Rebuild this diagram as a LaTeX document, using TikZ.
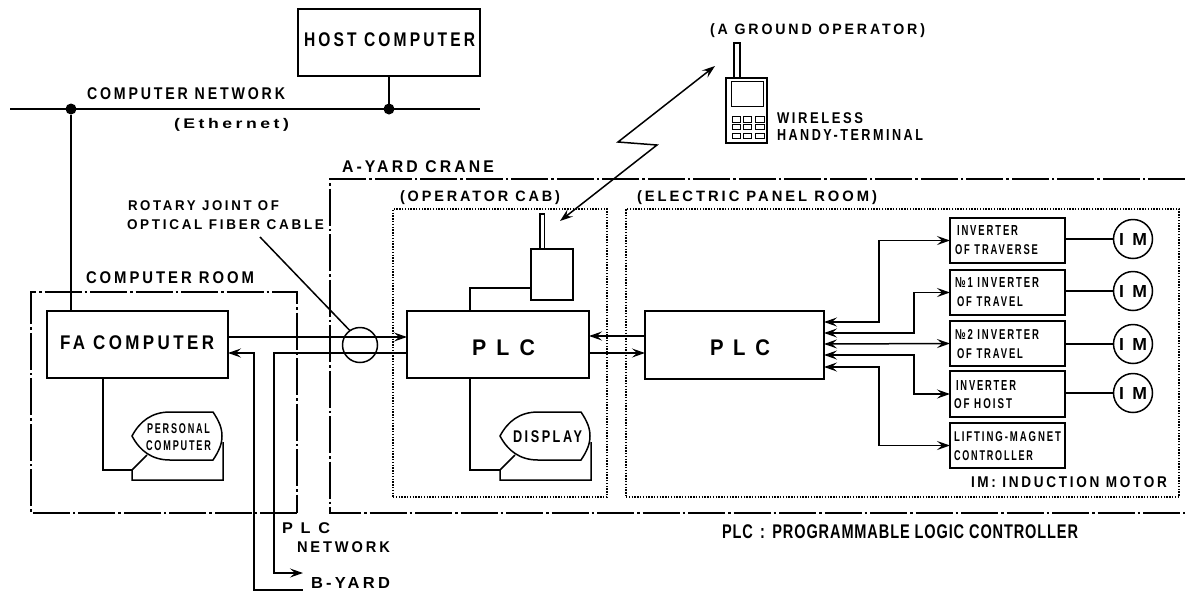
\documentclass[tikz,border=0pt]{standalone}
\usepackage{fontspec}
\usepackage{graphicx}
\usetikzlibrary{arrows.meta,fit}
\newfontfamily\labfont[LetterSpace=20,BoldFont={Liberation Sans Bold}]{Liberation Sans}
\newfontfamily\slfont[LetterSpace=6]{Liberation Sans Bold}
\tikzset{
  ln/.style={line width=1.5pt,line join=miter},
  box/.style={draw,ln,rectangle,inner sep=0pt,outer sep=0pt},
  lbl/.style={inner sep=0pt,outer sep=0pt,font=\labfont\bfseries},
  dashdot/.style={line width=1.5pt,dash pattern=on 37pt off 3pt on 2.5pt off 3pt},
  dotbox/.style={draw,rectangle,inner sep=0pt,outer sep=0pt,line width=1.3pt,dash pattern=on 1.4pt off 1.4pt},
  imc/.style={draw,ln,circle,minimum size=39pt,inner sep=0pt,outer sep=0pt},
  jdot/.style={fill=black,circle,minimum size=11pt,inner sep=0pt,outer sep=0pt},
  tipf/.style={-{Stealth[length=13pt,width=9pt,inset=5pt]}},
  tipb/.style={{Stealth[length=13pt,width=9pt,inset=5pt]}-},
  tipd/.style={{Stealth[length=13pt,width=9pt,inset=5pt]}-{Stealth[length=13pt,width=9pt,inset=5pt]}},
  thin part/.style={line width=0.6pt},
  dsp/.pic={
    \draw[ln] (0,0) .. controls (8,-15) and (20,-24) .. (38,-24) -- (81,-24)
      .. controls (87,-15) and (90,-8) .. (90,0) .. controls (90,8) and (87,15) .. (81,24)
      -- (38,24) .. controls (20,24) and (8,15) .. (0,0) -- cycle;
    \draw[ln] (15,19) -- (0,34) -- (0,44) -- (91,44) -- (91,6);
  }
}
\newcommand\BX[5]{\node[box,fit={(#2,#3)(#4,#5)}] (#1) {};}
\newcommand\DB[5]{\node[dotbox,fit={(#2,#3)(#4,#5)}] (#1) {};}
\newcommand\LB[6]{\pgfmathsetmacro\LBw{#3-#2}\node[lbl,anchor=west] (#1) at (#2,#4) {\resizebox*{\LBw pt}{#5pt}{#6}};}
\begin{document}
\begin{tikzpicture}[x=1pt,y=-1pt]
\useasboundingbox (0,0) rectangle (1185,592);
% boxes
\BX{host}{298}{9}{480}{76}
\BX{fa}{47}{311}{228}{378}
\BX{plcA}{407}{311}{589}{378}
\BX{plcB}{645}{311}{824}{379}
\BX{radio}{531}{249}{573}{300}
\BX{invA}{950}{218}{1065}{263}
\BX{invB}{950}{270}{1065}{315}
\BX{invC}{950}{321}{1065}{366}
\BX{invD}{950}{371}{1065}{417}
\BX{lift}{950}{423}{1065}{468}
\DB{cab}{393}{209}{607}{497}
\DB{panel}{626}{209}{1179}{497}
\node[imc] (imA) at (1133,239) {};
\node[imc] (imB) at (1133,291) {};
\node[imc] (imC) at (1133,344) {};
\node[imc] (imD) at (1133,393) {};
\node[draw,circle,ln,minimum size=35pt,inner sep=0pt,outer sep=0pt] (joint) at (360,345) {};
% regions
\draw[dashdot] (297,513) -- (31,513) -- (31,292) -- (297,292) -- cycle;
\draw[dashdot] (1185,179) -- (330,179) -- (330,513) -- (1185,513);
% network
\coordinate (netL) at (10,109);
\coordinate (netR) at (480,109);
\node[jdot] (dotA) at (71,109) {};
\node[jdot] (dotB) at (389,109) {};
\draw[ln] (netL) -- (netR);
\draw[ln] (dotA) -- (dotA |- fa.north);
\draw[ln] (dotB |- host.south) -- (dotB);
% plc network
\coordinate (byA) at (303,573);
\coordinate (byB) at (303,590);
\draw[ln,tipf] (fa.east |- 0,337) -- (plcA.west |- 0,337);
\draw[ln,tipf] (plcA.west |- 0,353) -- (274,353) |- (byA);
\draw[ln,tipb] (fa.east |- 0,353) -- (254,353) |- (byB);
% leader
\coordinate (lead) at (260,237);
\draw[ln] (lead) -- (joint.125);
% plc to plc
\draw[ln,tipb] (plcA.east |- 0,336) -- (plcB.west |- 0,336);
\draw[ln,tipf] (plcA.east |- 0,353) -- (plcB.west |- 0,353);
% radio
\draw[ln] (radio.west |- 0,288) -| (470,0 |- plcA.north);
\coordinate (antA) at (540,214);
\coordinate (antB) at (544.5,214);
\draw[line width=1.3pt] (antA |- radio.north) -- (antA) -- (antB) -- (antB |- radio.north);
% displays
\coordinate (dA) at (500,470);
\coordinate (dB) at (132,470);
\draw[ln] (470,0 |- plcA.south) |- (dA);
\draw[ln] (103,0 |- fa.south) |- (dB);
\pic at (500,436) {dsp};
\pic at (132,436) {dsp};
% crane drives
\draw[ln,tipd] (plcB.east |- 0,322) -- (879,322) |- (invA.west);
\draw[ln,tipd] (plcB.east |- 0,333) -- (914,333) |- (invB.west);
\draw[ln,tipd] (plcB.east |- 0,344) -- (invC.west);
\draw[ln,tipd] (plcB.east |- 0,355) -- (914,355) |- (invD.west);
\draw[ln,tipd] (plcB.east |- 0,367) -- (879,367) |- (lift.west);
\draw[ln] (invA.east |- imA) -- (imA);
\draw[ln] (invB.east |- imB) -- (imB);
\draw[ln] (invC.east |- imC) -- (imC);
\draw[ln] (invD.east |- imD) -- (imD);
% radio link
\coordinate (zA) at (715,66);
\coordinate (zB) at (618,142);
\coordinate (zC) at (657,145);
\coordinate (zD) at (560,221);
\draw[ln,tipd] (zA) -- (zB) -- (zC) -- (zD);
% handy terminal
\BX{handy}{726}{78}{767}{143}
\draw[line width=1.3pt] (734,0 |- handy.north) -- (734,43) -- (740,43) -- (740,0 |- handy.north);
\draw[thin part] (731,81) rectangle (763,106);
\foreach \yy/\yb in {116/122,124/129,133/138}{
  \draw[thin part] (732,\yy) rectangle (740,\yb);
  \draw[thin part] (743,\yy) rectangle (751,\yb);
  \draw[thin part] (755,\yy) rectangle (764,\yb);
}
% labels
\LB{tHost}{304}{475}{40}{14}{HOST COMPUTER}
\LB{tNet}{87}{285}{94}{12}{COMPUTER NETWORK}
\LB{tEth}{174}{289}{124.5}{13}{(Ethernet)}
\LB{tYard}{342}{494}{167}{12}{A-YARD CRANE}
\LB{tCab}{400}{560}{198}{14}{(OPERATOR CAB)}
\LB{tPanel}{637}{877}{198}{14}{(ELECTRIC PANEL ROOM)}
\LB{tRot}{128}{279}{206}{10}{ROTARY JOINT OF}
\LB{tFib}{127}{324}{225}{10}{OPTICAL FIBER CABLE}
\LB{tRoom}{86}{254}{278}{12}{COMPUTER ROOM}
\LB{tFa}{60}{214}{343}{14}{FA COMPUTER}
\LB{tPe}{147}{210}{429}{10}{PERSONAL}
\LB{tCo}{146}{211}{446}{10}{COMPUTER}
\LB{tPlcA}{472}{535}{348}{16}{P L C}
\LB{tPlcB}{710}{770}{348}{16}{P L C}
\LB{tDisp}{513}{582}{437}{12}{DISPLAY}
\LB{tPn}{282}{330}{528.5}{11}{P L C}
\LB{tNw}{297}{390}{547.5}{11}{NETWORK}
\LB{tBy}{311}{390}{582.5}{11}{B-YARD}
\LB{tA1}{957}{1018}{230}{10}{INVERTER}
\LB{tA2}{955}{1038}{249.5}{10}{OF TRAVERSE}
\LB{tB1}{955}{1039}{282}{10}{№1 INVERTER}
\LB{tB2}{957}{1023}{302}{10}{OF TRAVEL}
\LB{tC1}{955}{1039}{334}{10}{№2 INVERTER}
\LB{tC2}{957}{1023}{353.5}{10}{OF TRAVEL}
\LB{tD1}{956}{1016}{385}{10}{INVERTER}
\LB{tD2}{954}{1012}{404}{10}{OF HOIST}
\LB{tL1}{954}{1061}{437}{10}{LIFTING-MAGNET}
\LB{tL2}{954}{1033}{456}{10}{CONTROLLER}
\LB{tIm}{971}{1167}{482.5}{11}{IM: INDUCTION MOTOR}
\LB{tImA}{1119}{1147}{239}{12}{I M}
\LB{tImB}{1119}{1147}{291}{12}{I M}
\LB{tImC}{1119}{1147}{344}{12}{I M}
\LB{tImD}{1119}{1147}{393}{12}{I M}
\LB{tGr}{710}{925}{31}{14}{(A GROUND OPERATOR)}
\LB{tWi}{777}{863}{118}{11}{WIRELESS}
\LB{tHa}{777}{923}{135}{11}{HANDY-TERMINAL}
\node[inner sep=0pt,outer sep=0pt,anchor=west] (tLegend) at (722,532) {\resizebox*{356pt}{14pt}{\slfont PLC\, :\, PROGRAMMABLE LOGIC CONTROLLER}};
\end{tikzpicture}
\end{document}
